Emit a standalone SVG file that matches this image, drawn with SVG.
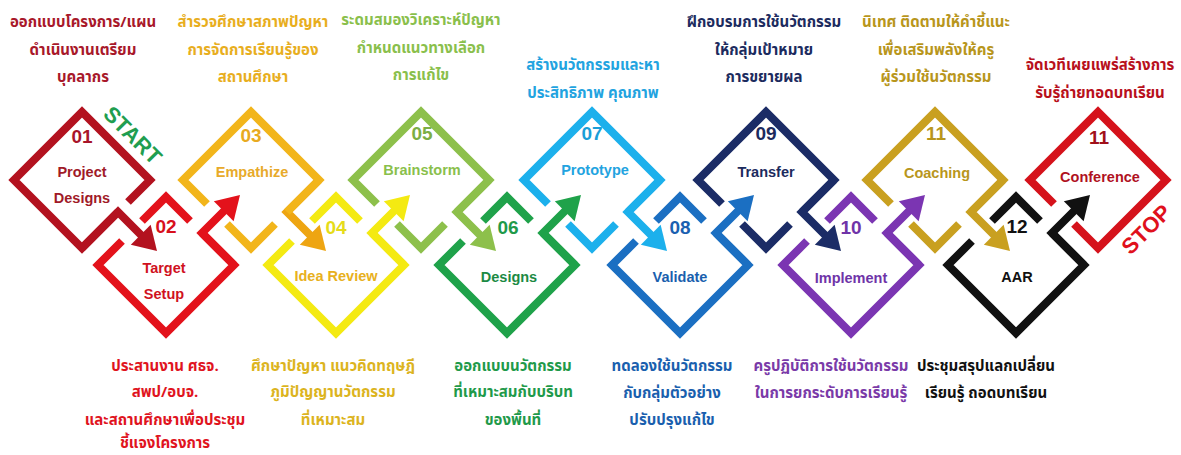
<svg xmlns="http://www.w3.org/2000/svg" width="1181" height="455" viewBox="0 0 1181 455">
<style>
.d{fill:none;stroke-width:8;stroke-linejoin:miter;stroke-linecap:butt}
.num{font-family:"Liberation Sans",Arial,sans-serif;font-weight:bold;font-size:19px;text-anchor:middle}
.lbl{font-family:"Liberation Sans",Arial,sans-serif;font-weight:bold;font-size:14.5px;text-anchor:middle}
.th{font-family:"Noto Sans Thai","Noto Sans","DejaVu Sans",sans-serif;font-size:15px;font-weight:bold;text-anchor:middle}
.big{font-family:"Liberation Sans",Arial,sans-serif;font-weight:bold;font-size:22px;text-anchor:middle}
</style>
<defs>
<path id="ah" d="M0,0 L-23,-14 L-23,14 Z"/>
</defs>
<rect width="1181" height="455" fill="#ffffff"/>

<g id="connectors">
<path class="d" stroke="#b3121f" d="M82,248 L118,212 L145,239"/>
<use href="#ah" fill="#b3121f" transform="translate(157,251) rotate(45)"/>
<path class="d" stroke="#e3121b" d="M234,265 L202,233 L228,207"/>
<use href="#ah" fill="#e3121b" transform="translate(240,195) rotate(-45)"/>
<path class="d" stroke="#eea512" d="M319,180 L287,212 L314,239"/>
<use href="#ah" fill="#eea512" transform="translate(326,251) rotate(45)"/>
<path class="d" stroke="#f4ea12" d="M404,265 L372,233 L398,207"/>
<use href="#ah" fill="#f4ea12" transform="translate(410,195) rotate(-45)"/>
<path class="d" stroke="#8dc04b" d="M489,180 L457,212 L484,239"/>
<use href="#ah" fill="#8dc04b" transform="translate(496,251) rotate(45)"/>
<path class="d" stroke="#1fa24a" d="M575,265 L543,233 L569,207"/>
<use href="#ah" fill="#1fa24a" transform="translate(581,195) rotate(-45)"/>
<path class="d" stroke="#1cb0ec" d="M660,180 L628,212 L655,239"/>
<use href="#ah" fill="#1cb0ec" transform="translate(667,251) rotate(45)"/>
<path class="d" stroke="#1b6fc2" d="M748,265 L716,233 L742,207"/>
<use href="#ah" fill="#1b6fc2" transform="translate(754,195) rotate(-45)"/>
<path class="d" stroke="#1b2c66" d="M834,180 L802,212 L829,239"/>
<use href="#ah" fill="#1b2c66" transform="translate(841,251) rotate(45)"/>
<path class="d" stroke="#7b35b2" d="M919,265 L887,233 L913,207"/>
<use href="#ah" fill="#7b35b2" transform="translate(925,195) rotate(-45)"/>
<path class="d" stroke="#c9a020" d="M1003,180 L971,212 L998,239"/>
<use href="#ah" fill="#c9a020" transform="translate(1010,251) rotate(45)"/>
<path class="d" stroke="#111111" d="M1084,265 L1052,233 L1078,207"/>
<use href="#ah" fill="#111111" transform="translate(1090,195) rotate(-45)"/>
</g>

<g id="n01">
<path class="d" stroke="#b3121f" d="M128,202 L150,180 L82,112 L14,180 L82,248 L118,212"/>
<text class="num" x="82" y="143" fill="#a8142a">01</text>
<text class="lbl" x="82" y="177" fill="#a01a28">Project</text>
<text class="lbl" x="82" y="203" fill="#a01a28">Designs</text>
<text class="th" x="83" y="27" fill="#a8182a">ออกแบบโครงการ/แผน</text>
<text class="th" x="83" y="55" fill="#a8182a">ดำเนินงานเตรียม</text>
<text class="th" x="83" y="82" fill="#a8182a">บุคลากร</text>
<text class="big" fill="#1f9e50" transform="translate(133,135) rotate(45)" y="8">START</text>
</g>

<g id="n02">
<path class="d" stroke="#e3121b" d="M122,241 L98,265 L166,333 L234,265 L202,233 M142,221 L166,197 L190,221"/>
<text class="num" x="166" y="233" fill="#d8101c">02</text>
<text class="lbl" x="164" y="273" fill="#d0121e">Target</text>
<text class="lbl" x="164" y="299" fill="#d0121e">Setup</text>
<text class="th" x="165" y="371" fill="#e0141e">ประสานงาน ศธจ.</text>
<text class="th" x="165" y="397" fill="#e0141e">สพป/อบจ.</text>
<text class="th" x="165" y="425" fill="#e0141e">และสถานศึกษาเพื่อประชุม</text>
<text class="th" x="165" y="448" fill="#e0141e">ชี้แจงโครงการ</text>
</g>

<g id="n03">
<path class="d" stroke="#f2b51b" d="M207,204 L183,180 L251,112 L319,180 L287,212 M227,224 L251,248 L275,224"/>
<text class="num" x="251" y="142" fill="#e8aa20">03</text>
<text class="lbl" x="252" y="177" fill="#e8aa2a">Empathize</text>
<text class="th" x="253" y="27" fill="#e8ae1e">สำรวจศึกษาสภาพปัญหา</text>
<text class="th" x="253" y="55" fill="#e8ae1e">การจัดการเรียนรู้ของ</text>
<text class="th" x="253" y="82" fill="#e8ae1e">สถานศึกษา</text>
</g>

<g id="n04">
<path class="d" stroke="#f4ea12" d="M292,241 L268,265 L336,333 L404,265 L372,233 M312,221 L336,197 L360,221"/>
<text class="num" x="336" y="234" fill="#e6dc18">04</text>
<text class="lbl" x="336" y="281" fill="#e8b020">Idea Review</text>
<text class="th" x="333" y="371" fill="#dcb41e">ศึกษาปัญหา แนวคิดทฤษฎี</text>
<text class="th" x="333" y="397" fill="#dcb41e">ภูมิปัญญานวัตกรรม</text>
<text class="th" x="333" y="425" fill="#dcb41e">ที่เหมาะสม</text>
</g>

<g id="n05">
<path class="d" stroke="#8dc04b" d="M377,204 L353,180 L421,112 L489,180 L457,212 M397,224 L421,248 L445,224"/>
<text class="num" x="422" y="140" fill="#7cae44">05</text>
<text class="lbl" x="422" y="175" fill="#8abf4c">Brainstorm</text>
<text class="th" x="421" y="25" fill="#8abf4c">ระดมสมองวิเคราะห์ปัญหา</text>
<text class="th" x="421" y="53" fill="#8abf4c">กำหนดแนวทางเลือก</text>
<text class="th" x="421" y="80" fill="#8abf4c">การแก้ไข</text>
</g>

<g id="n06">
<path class="d" stroke="#1fa24a" d="M463,241 L439,265 L507,333 L575,265 L543,233 M483,221 L507,197 L531,221"/>
<text class="num" x="508" y="234" fill="#1f9a4a">06</text>
<text class="lbl" x="509" y="282" fill="#1c8a44">Designs</text>
<text class="th" x="513" y="371" fill="#1f9a4a">ออกแบบนวัตกรรม</text>
<text class="th" x="513" y="397" fill="#1f9a4a">ที่เหมาะสมกับบริบท</text>
<text class="th" x="513" y="425" fill="#1f9a4a">ของพื้นที่</text>
</g>

<g id="n07">
<path class="d" stroke="#1cb0ec" d="M548,204 L524,180 L592,112 L660,180 L628,212 M568,224 L592,248 L616,224"/>
<text class="num" x="592" y="140" fill="#1a9ed8">07</text>
<text class="lbl" x="595" y="175" fill="#22a3e0">Prototype</text>
<text class="th" x="593" y="70" fill="#22a3e0">สร้างนวัตกรรมและหา</text>
<text class="th" x="593" y="98" fill="#22a3e0">ประสิทธิภาพ คุณภาพ</text>
</g>

<g id="n08">
<path class="d" stroke="#1b6fc2" d="M636,241 L612,265 L680,333 L748,265 L716,233 M656,221 L680,197 L704,221"/>
<text class="num" x="680" y="234" fill="#1a60b0">08</text>
<text class="lbl" x="680" y="282" fill="#1a5fae">Validate</text>
<text class="th" x="672" y="371" fill="#1a5fae">ทดลองใช้นวัตกรรม</text>
<text class="th" x="672" y="398" fill="#1a5fae">กับกลุ่มตัวอย่าง</text>
<text class="th" x="672" y="425" fill="#1a5fae">ปรับปรุงแก้ไข</text>
</g>

<g id="n09">
<path class="d" stroke="#1b2c66" d="M722,204 L698,180 L766,112 L834,180 L802,212 M742,224 L766,248 L790,224"/>
<text class="num" x="766" y="140" fill="#1c2b5e">09</text>
<text class="lbl" x="766" y="177" fill="#1c2b5e">Transfer</text>
<text class="th" x="764" y="27" fill="#1c2b5e">ฝึกอบรมการใช้นวัตกรรม</text>
<text class="th" x="764" y="55" fill="#1c2b5e">ให้กลุ่มเป้าหมาย</text>
<text class="th" x="764" y="82" fill="#1c2b5e">การขยายผล</text>
</g>

<g id="n10">
<path class="d" stroke="#7b35b2" d="M807,241 L783,265 L851,333 L919,265 L887,233 M827,221 L851,197 L875,221"/>
<text class="num" x="851" y="234" fill="#6f34a8">10</text>
<text class="lbl" x="851" y="283" fill="#6f34a8">Implement</text>
<text class="th" x="831" y="371" fill="#7a3aa8">ครูปฏิบัติการใช้นวัตกรรม</text>
<text class="th" x="831" y="398" fill="#7a3aa8">ในการยกระดับการเรียนรู้</text>
</g>

<g id="n11">
<path class="d" stroke="#c9a020" d="M891,204 L867,180 L935,112 L1003,180 L971,212 M911,224 L935,248 L959,224"/>
<text class="num" x="936" y="140" fill="#b8961c">11</text>
<text class="lbl" x="937" y="178" fill="#b8961c">Coaching</text>
<text class="th" x="936" y="27" fill="#b8961c">นิเทศ ติดตามให้คำชี้แนะ</text>
<text class="th" x="936" y="55" fill="#b8961c">เพื่อเสริมพลังให้ครู</text>
<text class="th" x="936" y="82" fill="#b8961c">ผู้ร่วมใช้นวัตกรรม</text>
</g>

<g id="n12">
<path class="d" stroke="#111111" d="M972,241 L948,265 L1016,333 L1084,265 L1052,233 M992,221 L1016,197 L1040,221"/>
<text class="num" x="1017" y="233" fill="#111111">12</text>
<text class="lbl" x="1017" y="282" fill="#111111">AAR</text>
<text class="th" x="986" y="371" fill="#111111">ประชุมสรุปแลกเปลี่ยน</text>
<text class="th" x="986" y="398" fill="#111111">เรียนรู้ ถอดบทเรียน</text>
</g>

<g id="n13">
<path class="d" stroke="#d5121b" d="M1054,204 L1030,180 L1098,112 L1166,180 L1098,248 L1074,224"/>
<text class="num" x="1099" y="144" fill="#a0101a">11</text>
<text class="lbl" x="1100" y="182" fill="#b0121e">Conference</text>
<text class="th" x="1100" y="70" fill="#b8101c">จัดเวทีเผยแพร่สร้างการ</text>
<text class="th" x="1100" y="98" fill="#b8101c">รับรู้ถ่ายทอดบทเรียน</text>
<text class="big" fill="#e0101c" transform="translate(1146,229) rotate(-45)" y="8">STOP</text>
</g>
</svg>
